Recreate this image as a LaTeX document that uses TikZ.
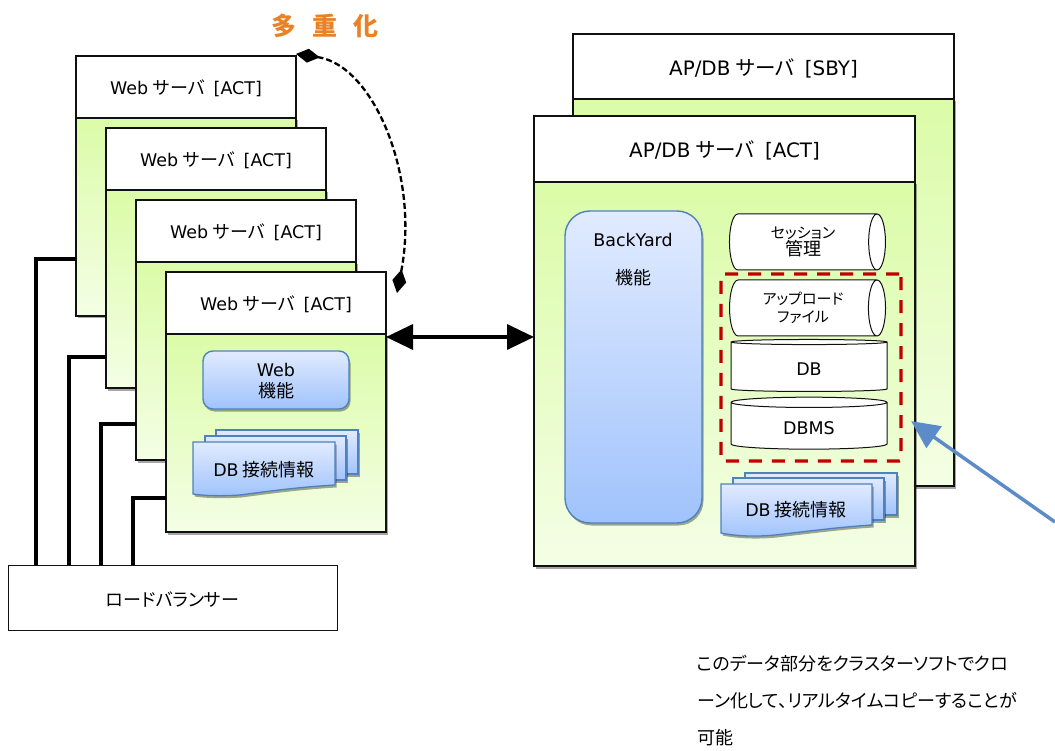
\documentclass[tikz,border=0pt]{standalone}
\usepackage{fontspec}
\setmainfont{Noto Sans CJK JP}[RawFeature=+palt]
\newfontfamily\latf[Scale=.97]{DejaVu Sans}
\newcommand\lat[1]{{\latf #1}}
\newcommand\dn[1]{\raisebox{-1.7pt}[\height][\depth]{#1}}
\newcommand\kana[1]{{\fontsize{15}{17.5}\selectfont #1}}
\usetikzlibrary{shapes.geometric,shadows,arrows.meta,calc}
\definecolor{lineblk}{HTML}{111111}
\definecolor{bluedge}{HTML}{4F81BD}
\definecolor{arrowblue}{HTML}{5B8CC9}
\definecolor{reddash}{HTML}{C00000}
\tikzset{
  x=1pt,y=-1pt,
  softshadow/.style={drop shadow={shadow xshift=1.5pt,shadow yshift=-2.5pt,opacity=.35,fill=black}},
  headbox/.style={draw=lineblk,line width=1.5pt,fill=white,inner sep=0pt,outer sep=0pt,anchor=north west,font=\fontsize{18}{20}\selectfont},
  bodybox/.style={draw=lineblk,line width=1.5pt,inner sep=0pt,outer sep=0pt,anchor=north west,
     top color={rgb,255:red,219;green,252;blue,168},bottom color={rgb,255:red,244;green,254;blue,229},softshadow},
  funcbox/.style={draw=bluedge,line width=1.4pt,rounded corners=10pt,inner sep=0pt,outer sep=0pt,anchor=north west,
     top color={rgb,255:red,225;green,235;blue,255},bottom color={rgb,255:red,160;green,195;blue,252},softshadow,align=center},
  docsheet/.style={draw=bluedge,line width=1.3pt,top color={rgb,255:red,225;green,235;blue,255},bottom color={rgb,255:red,160;green,195;blue,252},softshadow},
  hcyl/.style={cylinder,draw=lineblk,line width=1pt,fill=white,shape aspect=.55,inner sep=0pt,outer sep=0pt,minimum height=156pt,minimum width=56pt,anchor=center,align=center,font=\fontsize{18}{17.5}\selectfont},
  vcyl/.style={cylinder,shape border rotate=90,draw=lineblk,line width=1pt,fill=white,shape aspect=.2,inner sep=0pt,outer sep=0pt,minimum height=52pt,minimum width=156pt,anchor=center,font=\fontsize{18}{20}\selectfont},
  wire/.style={draw=black,line width=3.5pt,line join=miter},
  label/.style={inner sep=0pt,font=\fontsize{18}{20}\selectfont,align=center},
}
\begin{document}
\begin{tikzpicture}
\useasboundingbox (0,0) rectangle (1055,751);
% Web servers
\foreach \n/\xx/\yy in {1/76/56,2/106/128,3/136/200,4/166/272}{
  \node[bodybox,minimum width=220pt,minimum height=198pt] (wb\n) at (\xx,\yy+62) {};
  \node[headbox,minimum width=220pt,minimum height=62pt] (wh\n) at (\xx,\yy) {\dn{\lat{Web}\hspace{.05em} サーバ\hspace{.5em}\lat{[ACT]}}};
}
% Load balancer
\node[draw=lineblk,line width=1pt,fill=white,inner sep=0pt,outer sep=0pt,anchor=north west,minimum width=329pt,minimum height=65pt,font=\fontsize{18}{20}\selectfont] (lb) at (8,565) {\dn{ロードバランサー}};
\coordinate (t1) at (36,259);
\coordinate (t2) at (69,357);
\coordinate (t3) at (101,424);
\coordinate (t4) at (133,498);
\draw[wire] (lb.north -| t1) |- (t1 -| wb1.west);
\draw[wire] (lb.north -| t2) |- (t2 -| wb2.west);
\draw[wire] (lb.north -| t3) |- (t3 -| wb3.west);
\draw[wire] (lb.north -| t4) |- (t4 -| wb4.west);
% Web function
\node[funcbox,minimum width=146pt,minimum height=58pt,font=\fontsize{18}{21}\selectfont,text depth=0pt] (webf) at (203,351) {\lat{Web}\\機能};
% DB info left
\path[docsheet] (216,430) -- (358,430) -- (358,474) -- (216,474) -- cycle;
\path[docsheet] (205,436) -- (346,436) -- (346,480) -- (205,480) -- cycle;
\path[docsheet] (193,442) -- (335,442) -- (335,485) .. controls (300,487) and (270,491) .. (240,495) .. controls (225,496) and (205,496) .. (193,494) -- cycle;
\node[label] (dbl) at (264,470) {\lat{DB} 接続情報};
% Right servers
\node[bodybox,minimum width=381pt,minimum height=387pt] (sbyb) at (573,99) {};
\node[headbox,minimum width=381pt,minimum height=65pt,font=\fontsize{20.5}{22}\selectfont] (sbyh) at (573,34) {\dn{\lat{AP/DB}\hspace{.05em} サーバ\hspace{.5em}\lat{[SBY]}}};
\node[bodybox,minimum width=381pt,minimum height=384pt] (actb) at (534,182) {};
\node[headbox,minimum width=381pt,minimum height=66pt,font=\fontsize{20.5}{22}\selectfont] (acth) at (534,116) {\dn{\lat{AP/DB}\hspace{.05em} サーバ\hspace{.5em}\lat{[ACT]}}};
% BackYard
\node[funcbox,rounded corners=25pt,minimum width=137pt,minimum height=312pt] (by) at (565,211) {};
\node[label] (byt) at (633,240) {\lat{BackYard}};
\node[label] (byk) at (633,278) {機能};
% Stores
\node[hcyl] (sess) at (803,242) {\kana{セッション}\\管理};
\node[hcyl] (upl) at (803,308) {\kana{アップロード}\\\kana{ファイル}};
\node[vcyl] (db) at (809,367) {\dn{\lat{DB}}};
\node[vcyl] (dbms) at (809,426) {\dn{\lat{DBMS}}};
\node[draw=reddash,line width=3.4pt,dash pattern=on 13pt off 10pt,rounded corners=2pt,inner sep=0pt,outer sep=0pt,anchor=north west,minimum width=180pt,minimum height=187pt] (grp) at (721,274) {};
% DB info right
\path[docsheet] (745,473) -- (897,473) -- (897,515) -- (745,515) -- cycle;
\path[docsheet] (733,478) -- (884,478) -- (884,520) -- (733,520) -- cycle;
\path[docsheet] (721,484) -- (872,484) -- (872,525) .. controls (840,527) and (810,531) .. (775,535) .. controls (755,537) and (735,536) .. (721,533) -- cycle;
\node[label] (dbr) at (796,510) {\lat{DB} 接続情報};
% Double arrow
\draw[line width=3.5pt,{Triangle[length=27pt,width=25pt]}-{Triangle[length=27pt,width=25pt]}] (wb4.east |- 0,337) -- (actb.west |- 0,337);
% Multiplex
\node[inner sep=0pt,font=\fontsize{25}{28}\selectfont\bfseries,text={rgb,255:red,232;green,130;blue,38}] (multi) at (325,26) {多\hspace{.65em}重\hspace{.65em}化};
\coordinate (ds) at (296,54);
\coordinate (de) at (397,293);
\draw[line width=2.3pt,black,dash pattern=on 6pt off 3pt,{Diamond[length=24pt,width=14pt,fill=black]}-{Diamond[length=24pt,width=14pt,fill=black]}] (ds) .. controls (373,65) and (420,175) .. (de);
% Blue arrow
\coordinate (bs) at (1055,522);
\node[inner sep=0pt,minimum size=0pt] (bt) at (911,421) {};
\draw[arrowblue,line width=3.5pt,-{Triangle[length=28pt,width=26pt]}] (bs) -- (bt);
% Note
\node[inner sep=0pt,anchor=west,font=\fontsize{18}{20}\selectfont] (n1) at (697,664) {このデータ部分をクラスターソフトでクロ};
\node[inner sep=0pt,anchor=west,font=\fontsize{18}{20}\selectfont] (n2) at (697,701) {ーン化して、リアルタイムコピーすることが};
\node[inner sep=0pt,anchor=west,font=\fontsize{18}{20}\selectfont] (n3) at (697,738) {可能};
\end{tikzpicture}
\end{document}
